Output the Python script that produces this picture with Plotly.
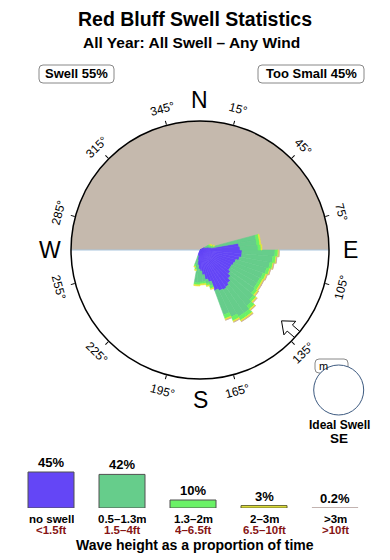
import math
import plotly.graph_objects as go

# ---------------- data ----------------
# rose: 5-degree direction bins (compass degrees, centre of bin)
rose_theta = [62.5, 67.5, 72.5, 77.5, 82.5, 87.5, 92.5, 97.5, 102.5, 107.5,
              112.5, 117.5, 122.5, 127.5, 132.5, 137.5, 142.5, 147.5, 152.5,
              157.5, 162.5, 167.5, 172.5, 177.5, 182.5, 187.5, 192.5, 197.5]
# stacked layer thickness per bin (relative frequency units)
rose_none = [5, 7, 9, 11, 39, 40, 42, 42, 40, 37, 36, 35, 35, 37, 40, 43, 45,
             46, 45, 43, 33, 30, 25, 21, 19, 15, 10, 6]
rose_small = [4, 3, 3, 46, 18, 18, 33, 31, 31, 32, 31, 31, 31, 30, 30, 30, 32,
              31, 29, 26, 4, 4, 7, 11, 14, 18, 8, 9]
rose_mid = [2, 2, 2, 3, 3, 3, 3, 3, 3, 3, 3, 3, 3, 3, 3, 4, 4, 4, 4, 4, 3, 2,
            2, 2, 2, 2, 2, 2]
rose_big = [1, 1, 1, 1, 1, 1, 1, 1, 1, 1, 1.5, 1.5, 1.5, 1.5, 1.5, 1.5, 1.5,
            1.5, 1.5, 1.5, 1, 1, 1, 1, 1, 1, 1, 1]
rose_huge = [0, 0, 0, 0, 0, 0, 0.3, 0.3, 0.3, 0.3, 0.3, 0.3, 0.3, 0.3, 0.3,
             0.3, 0.3, 0.3, 0.3, 0.3, 0, 0, 0, 0, 0, 0, 0, 0]
rose_max = 129

tick_angles = [15, 45, 75, 105, 135, 165, 195, 225, 255, 285, 315, 345]
compass = ["N", "E", "S", "W"]
compass_angles = [0, 90, 180, 270]
ideal_dir = 131

legend_labels = ["no swell", "0.5–1.3m", "1.3–2m", "2–3m", ">3m"]
legend_ft = ["<1.5ft", "1.5–4ft", "4–6.5ft", "6.5–10ft", ">10ft"]
legend_pct = [45, 42, 10, 3, 0.2]
legend_pct_text = ["45%", "42%", "10%", "3%", "0.2%"]

# ---------------- styles ----------------
W, H = 390, 560
FONT = "Liberation Sans, Arial, Helvetica, sans-serif"
C_NONE = "#6446f6"
C_SMALL = "#66cd8b"
C_MID = "#6af266"
C_BIG = "#e8e83a"
C_HUGE = "#c9aaa2"
C_LAND = "#c5b9ad"
C_COAST = "#a9c6de"
DARKRED = "#861515"


def X(px):
    return px / W


def Y(py):
    return 1 - py / H


CX, CY, RAD = 200, 250, 129

fig = go.Figure()

# land (upper half disc)
fig.add_trace(go.Barpolar(r=[rose_max], theta=[0], width=[180],
                          marker=dict(color=C_LAND, line=dict(width=0)),
                          hoverinfo="skip", showlegend=False))

# coast line (E-W), not drawn through the rose
totals = [a + b + c + d + e for a, b, c, d, e in
          zip(rose_none, rose_small, rose_mid, rose_big, rose_huge)]
east_start = max(t for th, t in zip(rose_theta, totals) if abs(th - 90) < 5)
fig.add_trace(go.Scatterpolar(r=[rose_max, 0, None, east_start, rose_max],
                              theta=[270, 270, None, 90, 90], mode="lines",
                              line=dict(color=C_COAST, width=1),
                              hoverinfo="skip", showlegend=False))

for vals, col, name in [(rose_none, C_NONE, legend_labels[0]),
                        (rose_small, C_SMALL, legend_labels[1]),
                        (rose_mid, C_MID, legend_labels[2]),
                        (rose_big, C_BIG, legend_labels[3]),
                        (rose_huge, C_HUGE, legend_labels[4])]:
    fig.add_trace(go.Barpolar(r=vals, theta=rose_theta, width=[5] * len(rose_theta),
                              name=name,
                              marker=dict(color=col, line=dict(width=0.6, color=col)),
                              showlegend=False))

# ideal swell arrow (block arrow pointing to the centre, tail on the rim)
arrow_local = [(108, 0), (119, -9), (119, -4), (130, -4), (130, 4), (119, 4),
               (119, 9), (108, 0)]
ar = [math.hypot(d, p) for d, p in arrow_local]
at = [ideal_dir + math.degrees(math.atan2(p, d)) for d, p in arrow_local]
fig.add_trace(go.Scatterpolar(r=ar, theta=at, mode="lines", fill="toself",
                              fillcolor="white", line=dict(color="black", width=1),
                              cliponaxis=False, hoverinfo="skip", showlegend=False))

# legend bar chart
fig.add_trace(go.Bar(x=list(range(5)), y=legend_pct, width=0.648,
                     marker=dict(color=[C_NONE, C_SMALL, C_MID, C_BIG, C_HUGE],
                                 line=dict(color=["#505050", "#505050", "#505050",
                                                  "#606030", "#b8a8a4"], width=1)),
                     hoverinfo="skip", showlegend=False, xaxis="x", yaxis="y"))

ann = []
ann.append(dict(text="<b>Red Bluff Swell Statistics</b>", x=X(195), y=Y(19),
                font=dict(size=19.5, color="black")))
ann.append(dict(text="<b>All Year: All Swell – Any Wind</b>", x=X(191), y=Y(43),
                font=dict(size=15.5, color="black")))
ann.append(dict(text="<b>Swell 55%</b>", x=X(76.5), y=Y(74), font=dict(size=13)))
ann.append(dict(text="<b>Too Small 45%</b>", x=X(311), y=Y(74), font=dict(size=13)))

for a in tick_angles:
    px = CX + 146 * math.sin(math.radians(a))
    py = CY - 146 * math.cos(math.radians(a))
    if a < 90:
        ta = a
    elif a > 270:
        ta = a - 360
    else:
        ta = a - 180
    ann.append(dict(text=f"{a}°", x=X(px), y=Y(py), textangle=ta,
                    font=dict(size=12)))

for lab, a in zip(compass, compass_angles):
    px = CX + 150 * math.sin(math.radians(a))
    py = CY - 150 * math.cos(math.radians(a))
    ann.append(dict(text=lab, x=X(px), y=Y(py), font=dict(size=23)))

ann.append(dict(text="m", x=X(317), y=Y(366), xanchor="left", font=dict(size=11)))
ann.append(dict(text="<b>Ideal Swell</b>", x=X(339), y=Y(425), font=dict(size=12)))
ann.append(dict(text="<b>SE</b>", x=X(339), y=Y(438.5), font=dict(size=13.5)))

for i in range(5):
    ann.append(dict(text=f"<b>{legend_pct_text[i]}</b>", x=i, y=legend_pct[i],
                    xref="x", yref="y", yanchor="bottom", yshift=0,
                    font=dict(size=13)))
    ann.append(dict(text=f"<b>{legend_labels[i]}</b>", x=i, y=Y(518.5), xref="x",
                    yref="paper", font=dict(size=11.5), height=11, borderpad=0))
    ann.append(dict(text=f"<b>{legend_ft[i]}</b>", x=i, y=Y(529.5), xref="x",
                    yref="paper", font=dict(size=11.5, color=DARKRED), height=11,
                    borderpad=0))
ann.append(dict(text="<b>Wave height as a proportion of time</b>", x=X(194.5),
                y=Y(545), font=dict(size=14)))

for a in ann:
    a.setdefault("xref", "paper")
    a.setdefault("yref", "paper")
    a.setdefault("showarrow", False)
    a.setdefault("xanchor", "center")
    a.setdefault("yanchor", "middle")
    f = a.setdefault("font", {})
    f.setdefault("family", FONT)
    f.setdefault("color", "black")


def rrect(x0, y0, x1, y1, r):
    pts = (f"M{X(x0 + r)},{Y(y0)} L{X(x1 - r)},{Y(y0)} Q{X(x1)},{Y(y0)} {X(x1)},{Y(y0 + r)} "
           f"L{X(x1)},{Y(y1 - r)} Q{X(x1)},{Y(y1)} {X(x1 - r)},{Y(y1)} "
           f"L{X(x0 + r)},{Y(y1)} Q{X(x0)},{Y(y1)} {X(x0)},{Y(y1 - r)} "
           f"L{X(x0)},{Y(y0 + r)} Q{X(x0)},{Y(y0)} {X(x0 + r)},{Y(y0)} Z")
    return pts


shapes = [
    dict(type="path", path=rrect(39, 65, 114, 83, 4), xref="paper", yref="paper",
         line=dict(color="#888888", width=1), fillcolor="white"),
    dict(type="path", path=rrect(258, 65, 364, 83, 4), xref="paper", yref="paper",
         line=dict(color="#888888", width=1), fillcolor="white"),
    dict(type="path", path=rrect(315, 359, 348, 373, 4), xref="paper", yref="paper",
         line=dict(color="#888888", width=1), fillcolor="white"),
    dict(type="circle", xref="paper", yref="paper", x0=X(313.7), x1=X(363.7),
         y0=Y(415), y1=Y(365), line=dict(color="#3d5a80", width=1),
         fillcolor="white"),
]

fig.update_layout(
    width=W, height=H, margin=dict(l=0, r=0, t=0, b=0, autoexpand=False),
    paper_bgcolor="white", plot_bgcolor="white",
    font=dict(family=FONT, color="black"),
    annotations=ann, shapes=shapes,
    polar=dict(
        domain=dict(x=[X(CX - RAD), X(CX + RAD)], y=[Y(CY + RAD), Y(CY - RAD)]),
        bgcolor="white", barmode="stack", bargap=0,
        radialaxis=dict(visible=False, range=[0, rose_max]),
        angularaxis=dict(rotation=90, direction="clockwise", showgrid=False,
                         showline=True, linecolor="black", linewidth=1.5,
                         ticks="outside", ticklen=4, tickcolor="black",
                         tickwidth=1, tickvals=tick_angles, showticklabels=False),
    ),
    xaxis=dict(domain=[0, 1], range=[-0.7183, 4.7746], visible=False,
               fixedrange=True),
    yaxis=dict(domain=[Y(508), Y(448)], range=[0, 75], visible=False,
               fixedrange=True),
    showlegend=False,
)

fig.write_html("out.html")
